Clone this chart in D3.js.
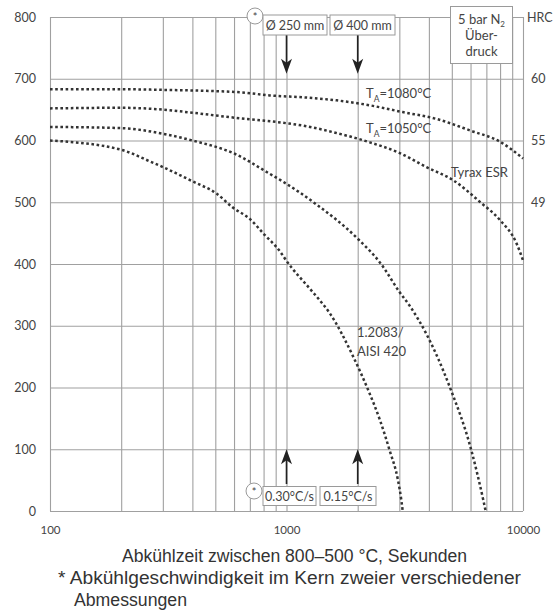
<!DOCTYPE html>
<html>
<head>
<meta charset="utf-8">
<script src="https://cdn.jsdelivr.net/npm/d3@7"></script>
<style>
  html, body { margin: 0; padding: 0; background: #fff; }
  svg { display: block; }
  .lbl { font-family: Lato, "Open Sans", sans-serif; fill: #444; }
  .cap { font-family: "Liberation Sans", Arial, sans-serif; fill: #333; }
</style>
</head>
<body>
<svg id="chart" width="555" height="610"></svg>
<script>
// Cooling time (s) grid positions on the log axis
const xGrid = [100, 200, 300, 400, 500, 600, 700, 800, 900,
               1000, 2000, 3000, 4000, 5000, 6000, 7000, 8000, 9000, 10000];
const xTickLabels = ["100", "1000", "10000"];
const xTickValues = [100, 1000, 10000];

// Hardness (HV) axis
const yTicks = [0, 100, 200, 300, 400, 500, 600, 700, 800];
// Right-hand HRC equivalents
const hrcAt = [700, 600, 500];
const hrcLabels = ["60", "55", "49"];

// Hardness vs. cooling time, [seconds, HV]
const curveTa1080 = [[100, 683], [200, 683], [300, 682], [640, 678], [850, 673], [1170, 670],
  [1630, 665], [2250, 657], [3100, 646], [4300, 635], [6000, 616], [8000, 598], [10000, 571]];
const curveTa1050 = [[100, 652], [200, 653], [300, 650], [400, 645], [600, 637], [1000, 628],
  [1180, 624], [1630, 612], [2000, 603], [2250, 597], [3000, 580], [3900, 557], [5100, 535],
  [6600, 500], [8000, 471], [9400, 433], [10000, 406]];
const curveEsrLow = [[100, 622], [200, 620], [300, 611], [400, 600], [600, 579], [850, 546],
  [970, 533], [1300, 500], [2000, 441], [2500, 401], [3000, 355], [3350, 330], [3900, 287],
  [4900, 201], [6050, 98], [6800, 17], [6950, 0]];
const curveAisi420 = [[100, 600], [200, 585], [265, 566], [300, 557], [400, 534], [506, 514],
  [595, 491], [700, 473], [800, 449], [940, 420], [1000, 405], [1255, 360], [1384, 341],
  [1525, 320], [1920, 249], [2220, 195], [2485, 147], [2730, 98], [2960, 50], [3060, 17], [3100, 0]];
const series = [curveTa1080, curveTa1050, curveEsrLow, curveAisi420];

// Core cooling marks for two section sizes
const markTimes = [1000, 2000];
const sizeLabels = ["\u00d8 250 mm", "\u00d8 400 mm"];
const rateLabels = ["0.30\u00b0C/s", "0.15\u00b0C/s"];

const svg = d3.select("#chart");
const pLeft = 50, pRight = 523, pTop = 17, pBottom = 511;

const x = d3.scaleLog().domain([100, 10000]).range([pLeft, pRight]);
const y = d3.scaleLinear().domain([0, 800]).range([pBottom, pTop]);

const gridColor = "#a0a0a0";

// vertical grid
svg.append("g").attr("transform", `translate(0,${pBottom})`)
  .call(d3.axisBottom(x).tickValues(xGrid).tickSize(-(pBottom - pTop)).tickFormat(""))
  .call(g => g.select(".domain").remove())
  .call(g => g.selectAll("line").attr("stroke", gridColor).attr("stroke-width", 1.1));

// horizontal grid
svg.append("g").attr("transform", `translate(${pLeft},0)`)
  .call(d3.axisLeft(y).tickValues(yTicks).tickSize(-(pRight - pLeft)).tickFormat(""))
  .call(g => g.select(".domain").remove())
  .call(g => g.selectAll("line").attr("stroke", gridColor).attr("stroke-width", 1.1));

// left tick labels
svg.append("g").attr("transform", `translate(${pLeft},0)`)
  .call(d3.axisLeft(y).tickValues(yTicks).tickSize(0).tickPadding(14))
  .call(g => g.select(".domain").remove())
  .call(g => g.selectAll("text").attr("class", "lbl").attr("font-size", 12.5));

// bottom tick labels
svg.append("g").attr("transform", `translate(0,${pBottom})`)
  .call(d3.axisBottom(x).tickValues(xTickValues).tickSize(0).tickPadding(15)
    .tickFormat((d, i) => xTickLabels[i]))
  .call(g => g.select(".domain").remove())
  .call(g => g.selectAll("text").attr("class", "lbl").attr("font-size", 11.5));

// right HRC labels
svg.append("g").selectAll("text").data(hrcAt).join("text")
  .attr("class", "lbl").attr("font-size", 12.5)
  .attr("x", pRight + 8).attr("y", d => y(d)).attr("dy", "0.35em")
  .text((d, i) => hrcLabels[i]);

// curves
const line = d3.line().x(d => x(d[0])).y(d => y(d[1])).curve(d3.curveMonotoneX);
svg.append("g").selectAll("path").data(series).join("path")
  .attr("d", line).attr("fill", "none")
  .attr("stroke", "#333").attr("stroke-width", 2.5)
  .attr("stroke-dasharray", "2.6 2.6");

// arrows (shaft + triangular head)
function arrow(px, yFrom, yTo) {
  const dir = yTo > yFrom ? 1 : -1;
  svg.append("line").attr("x1", px).attr("x2", px).attr("y1", yFrom).attr("y2", yTo - dir * 6)
    .attr("stroke", "#222").attr("stroke-width", 1.6);
  svg.append("path")
    .attr("d", `M${px},${yTo} L${px - 5.5},${yTo - dir * 15} L${px},${yTo - dir * 11} L${px + 5.5},${yTo - dir * 15} Z`)
    .attr("fill", "#222");
}
markTimes.forEach(t => arrow(x(t), 35, y(700) - 5));
markTimes.forEach(t => arrow(x(t), 484, y(100)));

// labelled boxes
function box(cx, cy, w, h, label) {
  svg.append("rect").attr("x", cx - w / 2).attr("y", cy - h / 2).attr("width", w).attr("height", h)
    .attr("fill", "#fff").attr("stroke", "#9a9a9a").attr("stroke-width", 1);
  svg.append("text").attr("class", "lbl").attr("font-size", 12.5)
    .attr("x", cx).attr("y", cy).attr("dy", "0.36em").attr("text-anchor", "middle").text(label);
}
function star(cx, cy) {
  svg.append("circle").attr("cx", cx).attr("cy", cy).attr("r", 8)
    .attr("fill", "#fff").attr("stroke", "#9a9a9a").attr("stroke-width", 1);
  svg.append("text").attr("class", "lbl").attr("font-size", 11).attr("fill", "#333")
    .attr("x", cx).attr("y", cy + 5).attr("text-anchor", "middle").text("*");
}
star(255, 16);
box(295, 25, 64, 20, sizeLabels[0]);
box(362.5, 25, 65, 20, sizeLabels[1]);
star(254, 491);
box(289.5, 496, 53, 19, rateLabels[0]);
box(348, 496, 56, 19, rateLabels[1]);

// pressure note box with short HRC leader
svg.append("rect").attr("x", 450.5).attr("y", 6.5).attr("width", 62).attr("height", 57)
  .attr("fill", "#fff").attr("stroke", "#9a9a9a").attr("stroke-width", 1);
const nb = svg.append("text").attr("class", "lbl").attr("font-size", 13).attr("text-anchor", "middle");
const t1 = nb.append("tspan").attr("x", 481.5).attr("y", 24);
t1.append("tspan").text("5 bar N");
t1.append("tspan").attr("font-size", 8).attr("dy", 3).text("2");
nb.append("tspan").attr("x", 481.5).attr("y", 40).text("\u00dcber-");
nb.append("tspan").attr("x", 481.5).attr("y", 56).text("druck");
svg.append("text").attr("class", "lbl").attr("font-size", 12.5)
  .attr("x", 527).attr("y", pTop).attr("dy", "0.36em").text("HRC");

// curve annotations
function taLabel(px, py, temp) {
  const t = svg.append("text").attr("class", "lbl").attr("font-size", 13).attr("x", px).attr("y", py);
  t.append("tspan").text("T");
  t.append("tspan").attr("font-size", 8.5).attr("dy", 4).text("A");
  t.append("tspan").attr("dy", -4).text("=" + temp + "\u00b0C");
}
taLabel(366, 98, 1080);
taLabel(366, 133, 1050);
svg.append("text").attr("class", "lbl").attr("font-size", 13).attr("x", 451).attr("y", 177).text("Tyrax ESR");
const al = svg.append("text").attr("class", "lbl").attr("font-size", 13);
al.append("tspan").attr("x", 357).attr("y", 337).text("1.2083/");
al.append("tspan").attr("x", 357).attr("y", 356).text("AISI 420");

// caption
const cap = svg.append("g").attr("class", "cap").attr("font-size", 18);
cap.append("text").attr("x", 122).attr("y", 562)
  .attr("textLength", 345).attr("lengthAdjust", "spacingAndGlyphs")
  .text("Abk\u00fchlzeit zwischen 800\u2013500 \u00b0C, Sekunden");
cap.append("text").attr("x", 58).attr("y", 584)
  .attr("textLength", 463).attr("lengthAdjust", "spacingAndGlyphs")
  .text("* Abk\u00fchlgeschwindigkeit im Kern zweier verschiedener");
cap.append("text").attr("x", 74).attr("y", 606)
  .attr("textLength", 113).attr("lengthAdjust", "spacingAndGlyphs")
  .text("Abmessungen");
</script>
</body>
</html>
